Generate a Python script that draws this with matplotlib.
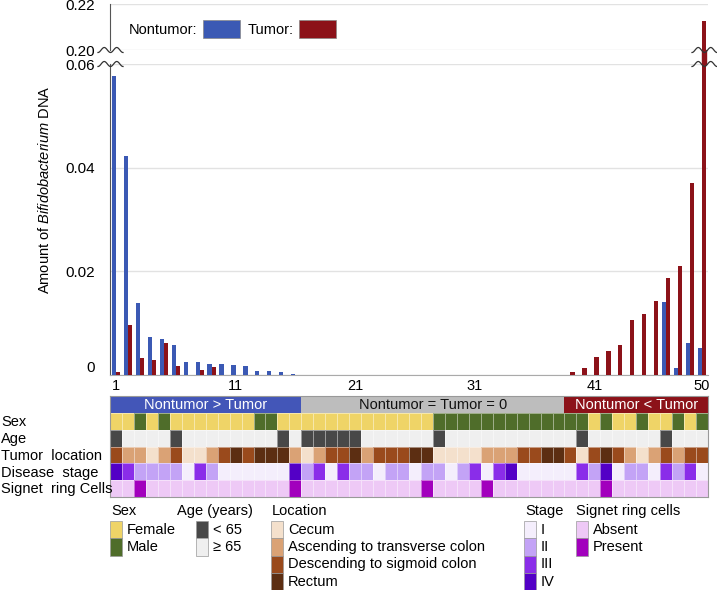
import numpy as np
import matplotlib
matplotlib.use('Agg')
import matplotlib.pyplot as plt
import matplotlib.transforms as mtransforms
from matplotlib.colors import ListedColormap
from matplotlib.patches import Rectangle, Patch
from matplotlib.lines import Line2D

plt.rcParams['font.family'] = ['Liberation Sans', 'DejaVu Sans']
plt.rcParams['mathtext.fontset'] = 'custom'
plt.rcParams['mathtext.it'] = 'Liberation Sans:italic'
plt.rcParams['mathtext.rm'] = 'Liberation Sans'

# ---- data ----
patients = np.arange(1, 51)
nontumor = [0.0577, 0.0423, 0.0138, 0.0073, 0.0069, 0.0058, 0.0026, 0.0026, 0.0021, 0.0021,
            0.0019, 0.0018, 0.0008, 0.0007, 0.0005, 0.0001, 0, 0, 0, 0,
            0, 0, 0, 0, 0, 0, 0, 0, 0, 0,
            0, 0, 0, 0, 0, 0, 0, 0, 0, 0,
            0, 0, 0, 0, 0, 0, 0.0141, 0.0014, 0.0062, 0.0052]
tumor = [0.0006, 0.0096, 0.0032, 0.0029, 0.0061, 0.0018, 0, 0.0010, 0.0015, 0,
         0, 0, 0, 0, 0, 0, 0, 0, 0, 0,
         0, 0, 0, 0, 0, 0, 0, 0, 0, 0,
         0, 0, 0, 0, 0, 0, 0, 0, 0.0005, 0.0013,
         0.0035, 0.0046, 0.0057, 0.0107, 0.0117, 0.0143, 0.0188, 0.0210, 0.0370, 0.2128]

# 0 female, 1 male
sex = [0, 0, 1, 0, 1, 0, 0, 0, 0, 0, 0, 0, 1, 1, 0, 0, 0, 0, 0, 0,
       0, 0, 0, 0, 0, 0, 0, 1, 1, 1, 1, 1, 1, 1, 1, 1, 1, 1, 1, 1,
       0, 1, 0, 0, 1, 0, 0, 1, 0, 1]
# 0 <65, 1 >=65
age = [0, 1, 1, 1, 1, 0, 1, 1, 1, 1, 1, 1, 1, 1, 0, 1, 0, 0, 0, 0,
       0, 1, 1, 1, 1, 1, 1, 0, 1, 1, 1, 1, 1, 1, 1, 1, 1, 1, 1, 0,
       1, 1, 1, 1, 1, 1, 0, 1, 1, 1]
# 0 cecum, 1 ascending-transverse, 2 descending-sigmoid, 3 rectum
location = [2, 1, 1, 0, 1, 2, 0, 0, 1, 2, 3, 2, 3, 3, 3, 1, 0, 1, 2, 2,
            3, 1, 2, 2, 2, 3, 3, 0, 0, 0, 0, 1, 1, 1, 2, 2, 3, 3, 2, 0,
            2, 3, 2, 1, 0, 1, 2, 1, 2, 2]
# 0 I .. 3 IV
stage = [3, 2, 1, 1, 1, 1, 0, 2, 1, 0, 0, 0, 0, 0, 0, 3, 1, 2, 0, 2,
         1, 1, 0, 1, 1, 0, 1, 1, 0, 1, 2, 0, 2, 3, 0, 0, 0, 0, 0, 2,
         1, 3, 0, 1, 1, 0, 2, 1, 2, 0]
# 0 absent, 1 present
signet = [0, 0, 1, 0, 0, 0, 0, 0, 0, 0, 0, 0, 0, 0, 0, 1, 0, 0, 0, 0,
          0, 0, 0, 0, 0, 0, 1, 0, 0, 0, 0, 1, 0, 0, 0, 0, 0, 0, 0, 0,
          0, 1, 0, 0, 0, 0, 0, 0, 0, 0]

row_names = ['Sex', 'Age', 'Tumor  location', 'Disease  stage', 'Signet  ring Cells']
group_names = ['Nontumor > Tumor', 'Nontumor = Tumor = 0', 'Nontumor < Tumor']
sex_labels = ['Female', 'Male']
age_labels = ['< 65', '\u2265 65']
loc_labels = ['Cecum', 'Ascending to transverse colon', 'Descending to sigmoid colon', 'Rectum']
stage_labels = ['I', 'II', 'III', 'IV']
signet_labels = ['Absent', 'Present']

BLUE = '#3b59b4'
RED = '#8c1219'
group_cols = ['#4356b8', '#bdbdbd', '#8c1219']
group_txt = ['white', '#111111', 'white']
sex_cols = ['#efd467', '#4f6d2a']
age_cols = ['#484848', '#efefef']
loc_cols = ['#f4e0cc', '#daa275', '#9a4a1c', '#5c2e12']
stage_cols = ['#f4eefc', '#c3a3f6', '#8a2de9', '#5300c6']
signet_cols = ['#eec9f6', '#a200bd']

W, H = 717, 590
FS = 10.5
fig = plt.figure(figsize=(W / 100, H / 100), dpi=100)


def box(x0, y0, x1, y1):
    return [x0 / W, 1 - y1 / H, (x1 - x0) / W, (y1 - y0) / H]


ax_top = fig.add_axes(box(110, 4, 708, 50))
ax_bot = fig.add_axes(box(110, 64, 708, 375))
ax_hm = fig.add_axes(box(110, 396, 708, 497))

# ---- bars ----
w = 0.35
for ax in (ax_top, ax_bot):
    ax.bar(patients - w / 2, nontumor, w, color=BLUE, zorder=3)
    ax.bar(patients + w / 2, tumor, w, color=RED, zorder=3)
    ax.set_xlim(0.5, 50.5)
    ax.grid(axis='y', color='#e2e2e2', lw=1, zorder=0)
    ax.set_axisbelow(True)
    for s in ['top', 'right']:
        ax.spines[s].set_visible(False)
    ax.spines['left'].set_color('#555555')
    ax.tick_params(axis='y', length=0, pad=11, labelsize=11)

ax_top.set_ylim(0.20, 0.22)
ax_top.set_yticks([0.20, 0.22], ['0.20', '0.22'])
ax_top.spines['bottom'].set_visible(False)
ax_top.set_xticks([])

ax_bot.set_ylim(0, 0.06)
ax_bot.set_yticks([0, 0.02, 0.04, 0.06], ['0', '0.02', '0.04', '0.06'])
ax_bot.get_yticklabels()[0].set_verticalalignment('bottom')
ax_bot.spines['bottom'].set_color('#aaaaaa')
ax_bot.set_xticks([1, 11, 21, 31, 41, 50])
ax_bot.tick_params(axis='x', length=0, pad=3, labelsize=FS)

# bars that cross the break continue through the gap
y_lo = ax_bot.get_position().y1
y_hi = ax_top.get_position().y0
gap_tr = mtransforms.blended_transform_factory(ax_bot.transData, fig.transFigure)
for p, v in zip(patients, tumor):
    if v > 0.06:
        fig.add_artist(Rectangle((p, y_lo), w, y_hi - y_lo, color=RED, transform=gap_tr))


def wave(x0, yc):
    t = np.linspace(0, 25, 80)
    ys = yc + 2.5 * np.cos(2 * np.pi * t / 12.5)
    fig.add_artist(Line2D((x0 + t) / W, 1 - ys / H, color='#333333', lw=0.9))


for yc in (50, 64):
    wave(98, yc)
    wave(692, yc)

ax_top.legend([Patch(facecolor=BLUE, edgecolor='#888888', lw=0.5),
               Patch(facecolor=RED, edgecolor='#888888', lw=0.5)],
              ['Nontumor:', 'Tumor:'], markerfirst=False, ncol=2, frameon=False,
              loc='center left', bbox_to_anchor=(129 / W, 1 - 29 / H),
              bbox_transform=fig.transFigure, handlelength=2.55, handleheight=1.5,
              handletextpad=0.35, columnspacing=0.55, fontsize=FS,
              borderpad=0, borderaxespad=0)

fig.text(45 / W, 1 - 190 / H, r'Amount of $\mathit{Bifidobacterium}$ DNA',
         rotation=90, ha='center', va='center', fontsize=FS)

# ---- annotation heatmap ----
nt = np.array(nontumor)
tu = np.array(tumor)
group = (np.sign(tu - nt) + 1).astype(int)
start = 0
for i in range(1, 51):
    if i == 50 or group[i] != group[start]:
        g = group[start]
        ax_hm.add_patch(Rectangle((patients[start] - 0.5, 0), i - start, 1,
                                  facecolor=group_cols[g], edgecolor='none'))
        ax_hm.text((patients[start] + patients[i - 1]) / 2, 0.55, group_names[g],
                   ha='center', va='center', fontsize=FS, color=group_txt[g])
        start = i

x_edges = np.arange(0.5, 51.5, 1)
rows = [(sex, sex_cols), (age, age_cols), (location, loc_cols),
        (stage, stage_cols), (signet, signet_cols)]
for r, (codes, pal) in enumerate(rows):
    ax_hm.pcolormesh(x_edges, [r + 1, r + 2], np.array(codes)[None, :],
                     cmap=ListedColormap(pal), vmin=-0.5, vmax=len(pal) - 0.5,
                     edgecolors=(1, 1, 1, 0.45), linewidth=0.6)

ax_hm.set_xlim(0.5, 50.5)
ax_hm.set_ylim(6, 0)
ax_hm.set_xticks([])
ax_hm.set_yticks([])
for s in ax_hm.spines.values():
    s.set_color('#999999')
    s.set_linewidth(0.8)

lab_tr = mtransforms.blended_transform_factory(fig.transFigure, ax_hm.transData)
for r, name in enumerate(row_names):
    ax_hm.text(1 / W, r + 1.55, name, transform=lab_tr, ha='left', va='center', fontsize=FS)


# ---- category legends ----
def legend_block(px, title_px, title, labels, colors):
    fig.text(title_px / W, 1 - 511 / H, title, ha='left', va='center', fontsize=FS)
    for i, (lab, c) in enumerate(zip(labels, colors)):
        y0 = 521 + i * 17.3
        fig.add_artist(Rectangle((px / W, 1 - (y0 + 17.3) / H), 12 / W, 17.3 / H,
                                 facecolor=c, edgecolor='#9a9a9a', lw=0.5,
                                 transform=fig.transFigure))
        fig.text((px + 17) / W, 1 - (y0 + 8.8) / H, lab, ha='left', va='center', fontsize=FS)


legend_block(110, 111, 'Sex', sex_labels, sex_cols)
legend_block(196, 177, 'Age (years)', age_labels, age_cols)
legend_block(271, 272, 'Location', loc_labels, loc_cols)
legend_block(524, 525, 'Stage', stage_labels, stage_cols)
legend_block(576, 576, 'Signet ring cells', signet_labels, signet_cols)

fig.savefig('out.png', dpi=100)
